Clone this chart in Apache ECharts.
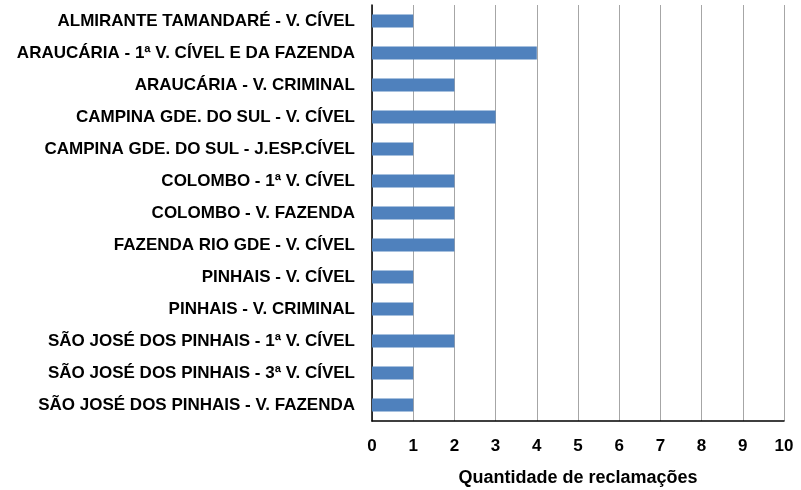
<!DOCTYPE html>
<html>
<head>
<meta charset="utf-8">
<script src="https://cdn.jsdelivr.net/npm/echarts@6/dist/echarts.min.js"></script>
<style>
  html, body { margin: 0; padding: 0; background: #fff; }
  #chart { width: 801px; height: 490px; }
</style>
</head>
<body>
<div id="chart"></div>
<script>
const categories = [
  'ALMIRANTE TAMANDARÉ - V. CÍVEL',
  'ARAUCÁRIA - 1ª V. CÍVEL E DA FAZENDA',
  'ARAUCÁRIA - V. CRIMINAL',
  'CAMPINA GDE. DO SUL - V. CÍVEL',
  'CAMPINA GDE. DO SUL - J.ESP.CÍVEL',
  'COLOMBO - 1ª V. CÍVEL',
  'COLOMBO - V. FAZENDA',
  'FAZENDA RIO GDE - V. CÍVEL',
  'PINHAIS - V. CÍVEL',
  'PINHAIS - V. CRIMINAL',
  'SÃO JOSÉ DOS PINHAIS - 1ª V. CÍVEL',
  'SÃO JOSÉ DOS PINHAIS - 3ª V. CÍVEL',
  'SÃO JOSÉ DOS PINHAIS - V. FAZENDA'
];
const reclamacoes = [1, 4, 2, 3, 1, 2, 2, 2, 1, 1, 2, 1, 1];

const font = '"Liberation Sans", Arial, sans-serif';

const chart = echarts.init(document.getElementById('chart'));
chart.setOption({
  animation: false,
  grid: { left: 372, right: 17, top: 5, bottom: 69, containLabel: false, outerBoundsMode: 'none' },
  xAxis: {
    type: 'value',
    min: 0,
    max: 10,
    interval: 1,
    name: 'Quantidade de reclamações',
    nameLocation: 'middle',
    nameGap: 48,
    nameTextStyle: { fontFamily: font, fontWeight: 'bold', fontSize: 18, color: '#000' },
    axisLine: { show: true, lineStyle: { color: '#000', width: 1.5 } },
    axisTick: { show: false },
    axisLabel: { fontFamily: font, fontWeight: 'bold', fontSize: 17, color: '#000', margin: 17 },
    splitLine: { show: true, lineStyle: { color: '#a6a6a6', width: 1 } }
  },
  yAxis: {
    type: 'category',
    data: categories,
    inverse: true,
    axisLine: { show: true, lineStyle: { color: '#000', width: 1.5 } },
    axisTick: { show: false },
    axisLabel: { fontFamily: font, fontWeight: 'bold', fontSize: 17, color: '#000', margin: 17 }
  },
  series: [{
    type: 'bar',
    data: reclamacoes,
    barWidth: 13,
    itemStyle: { color: '#4f81bd' }
  }]
});
</script>
</body>
</html>
